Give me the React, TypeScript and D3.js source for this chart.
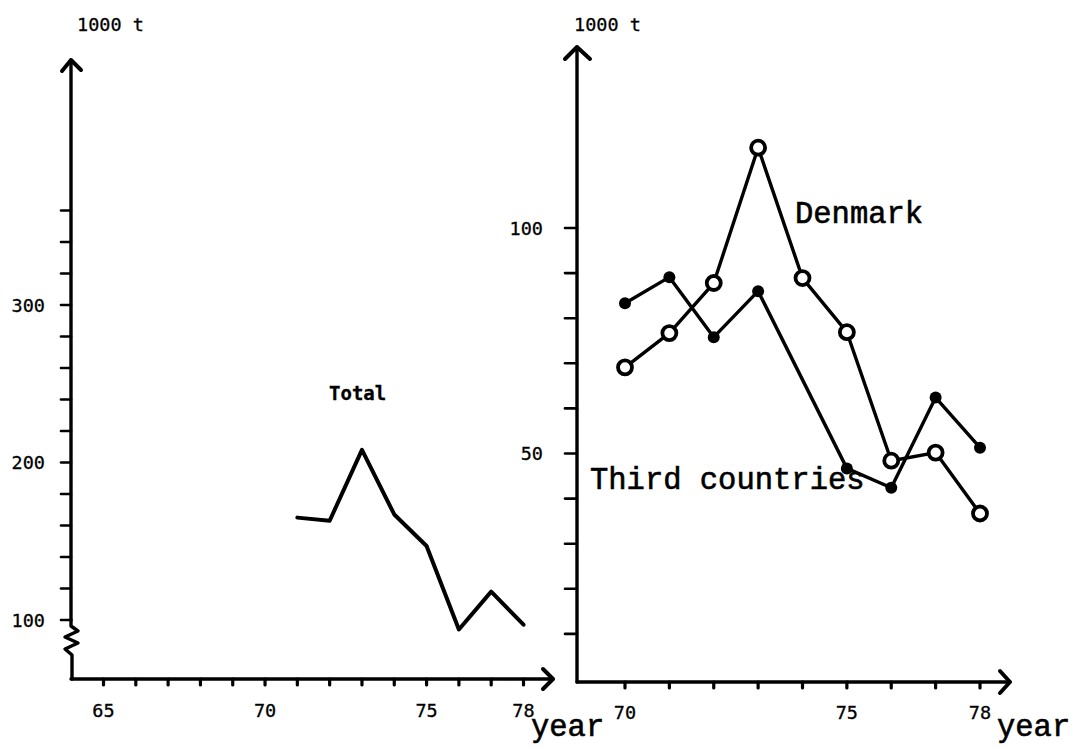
import React from "react";
import * as d3 from "d3";

// ---- Data ----
// Left panel: Total, 1000 t
const totalYears = [71, 72, 73, 74, 75, 76, 77, 78];
const totalValues = [165, 163, 208, 167, 147, 94, 118, 97];

// Right panel
const denmarkYears = [70, 71, 72, 73, 74, 75, 76, 77, 78];
const denmarkValues = [69.1, 76.7, 87.8, 117.8, 88.9, 76.9, 48.4, 50.2, 36.7];
const thirdYears = [70, 71, 72, 73, 75, 76, 77, 78];
const thirdValues = [83.3, 89.1, 75.8, 86.0, 46.7, 42.4, 62.4, 51.3];

// Tick definitions
const leftYearTicks = d3.range(65, 79);
const leftYearLabels = [65, 70, 75, 78];
const leftValueTicks = d3.range(100, 361, 20);
const leftValueLabels = [100, 200, 300];
const rightYearTicks = d3.range(70, 79);
const rightYearLabels = [70, 75, 78];
const rightValueTicks = d3.range(10, 101, 10);
const rightValueLabels = [50, 100];

const unitLabel = "1000 t";
const yearLabel = "year";

const W = 1073;
const H = 749;

const monoSans = "'DejaVu Sans Mono', monospace";
const courier = "'Liberation Mono', 'Courier New', monospace";

export default function App() {
  // Left panel layout
  const xL = d3.scaleLinear().domain([65, 78]).range([103.5, 523.5]);
  const yL = d3.scaleLinear().domain([100, 300]).range([620, 305]);
  const axL = 71; // y-axis x
  const ayL = 679; // x-axis y

  // Right panel layout
  const xR = d3.scaleLinear().domain([70, 78]).range([625, 980]);
  const yR = d3.scaleLinear().domain([0, 100]).range([679, 228]);
  const axR = 577;
  const ayR = 682;

  const totalLine = d3
    .line<number>()
    .x((_, i) => xL(totalYears[i]))
    .y((d) => yL(d));
  const denLine = d3
    .line<number>()
    .x((_, i) => xR(denmarkYears[i]))
    .y((d) => yR(d));
  const thirdLine = d3
    .line<number>()
    .x((_, i) => xR(thirdYears[i]))
    .y((d) => yR(d));

  const axisStroke = 3.4;

  // zig-zag break on left y axis
  const b = yL(100);
  const zig = `M${axL},${b} L${axL},${b + 6} L${axL + 7},${b + 11} L${axL - 6},${b + 17} L${axL + 7},${b + 23} L${axL - 6},${b + 29} L${axL + 1},${b + 35} L${axL + 1},${ayL}`;

  return (
    <svg
      width={W}
      height={H}
      style={{ position: "absolute", left: 0, top: 0, background: "#fff" }}
    >
      <rect x={0} y={0} width={W} height={H} fill="#fff" />

      {/* ---------- LEFT PANEL ---------- */}
      <g stroke="#000" fill="none" strokeLinecap="round" strokeLinejoin="round">
        <line x1={axL} y1={b} x2={axL} y2={60} strokeWidth={axisStroke} />
        <path d={zig} strokeWidth={axisStroke} />
        <path d={`M${axL - 9},${71} L${axL},${60} L${axL + 10},${70}`} strokeWidth={4} />
        {leftValueTicks.map((v) => (
          <line key={v} x1={axL - 10} x2={axL} y1={yL(v)} y2={yL(v)} strokeWidth={2.6} />
        ))}
        <line x1={axL} y1={ayL} x2={553} y2={ayL} strokeWidth={axisStroke} />
        <path d={`M${543},${ayL - 10} L${553},${ayL} L${543},${ayL + 10}`} strokeWidth={4} />
        {leftYearTicks.map((t) => (
          <line key={t} x1={xL(t)} x2={xL(t)} y1={ayL} y2={ayL + 6} strokeWidth={3.2} />
        ))}
        <path d={totalLine(totalValues) || ""} strokeWidth={4} />
      </g>
      <g fontFamily={monoSans} fontSize={18.5} fill="#000" stroke="#000" strokeWidth={0.3}>
        {leftValueLabels.map((v) => (
          <text key={v} x={45} y={yL(v)} dy="0.36em" textAnchor="end">
            {v}
          </text>
        ))}
        {leftYearLabels.map((t) => (
          <text key={t} x={xL(t)} y={717} textAnchor="middle">
            {t}
          </text>
        ))}
        <text x={77} y={31}>{unitLabel}</text>
        <text x={329} y={400} fontWeight="bold" fontSize={19}>
          Total
        </text>
      </g>

      {/* ---------- RIGHT PANEL ---------- */}
      <g stroke="#000" fill="none" strokeLinecap="round" strokeLinejoin="round">
        <line x1={axR} y1={ayR} x2={axR} y2={47} strokeWidth={axisStroke} />
        <path d={`M${axR - 12},${59} L${axR},${47} L${axR + 13},${59}`} strokeWidth={4} />
        {rightValueTicks.map((v) => (
          <line key={v} x1={axR - 12} x2={axR} y1={yR(v)} y2={yR(v)} strokeWidth={2.6} />
        ))}
        <line x1={axR} y1={ayR} x2={1010} y2={ayR} strokeWidth={axisStroke} />
        <path d={`M${1000},${ayR - 11} L${1010},${ayR} L${1000},${ayR + 11}`} strokeWidth={4} />
        {rightYearTicks.map((t) => (
          <line key={t} x1={xR(t)} x2={xR(t)} y1={ayR} y2={ayR + 6} strokeWidth={3.2} />
        ))}
        <path d={thirdLine(thirdValues) || ""} strokeWidth={3.4} />
        <path d={denLine(denmarkValues) || ""} strokeWidth={3.4} />
      </g>
      <g fill="#000">
        {thirdValues.map((v, i) => (
          <circle key={i} cx={xR(thirdYears[i])} cy={yR(v)} r={6} />
        ))}
      </g>
      <g fill="#fff" stroke="#000" strokeWidth={3.8}>
        {denmarkValues.map((v, i) => (
          <circle key={i} cx={xR(denmarkYears[i])} cy={yR(v)} r={7} />
        ))}
      </g>
      <g fontFamily={monoSans} fontSize={18.5} fill="#000" stroke="#000" strokeWidth={0.3}>
        {rightValueLabels.map((v) => (
          <text key={v} x={543} y={yR(v)} dy="0.36em" textAnchor="end">
            {v}
          </text>
        ))}
        {rightYearLabels.map((t) => (
          <text key={t} x={xR(t)} y={719} textAnchor="middle">
            {t}
          </text>
        ))}
        <text x={574} y={31}>{unitLabel}</text>
      </g>
      <g fontFamily={courier} fontSize={30.5} fill="#000" stroke="#000" strokeWidth={0.6}>
        <text x={795} y={223}>Denmark</text>
        <text x={590} y={489}>Third countries</text>
        <text x={531} y={736}>{yearLabel}</text>
        <text x={997} y={736}>{yearLabel}</text>
      </g>
    </svg>
  );
}
